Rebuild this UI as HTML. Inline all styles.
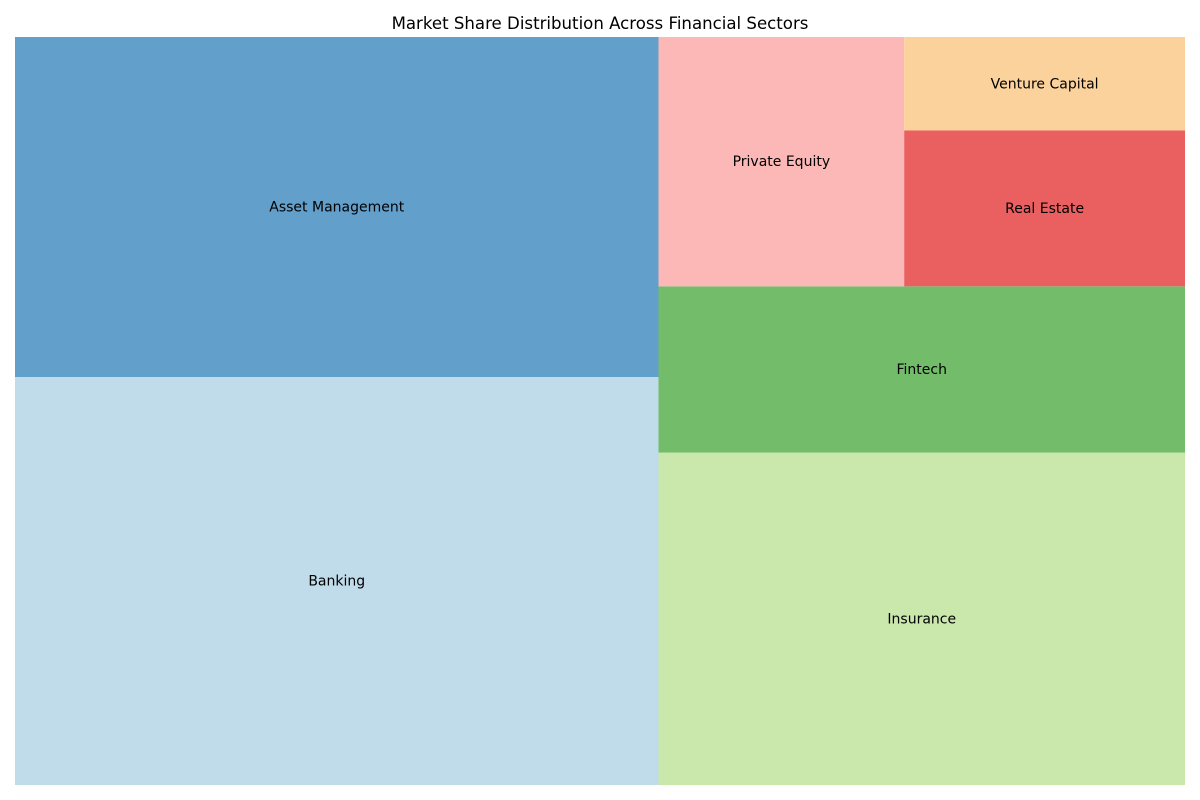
<!DOCTYPE html>
<html><head><meta charset="utf-8">
<style>
html,body{margin:0;padding:0;background:#fff;}
svg{display:block;}
text{font-family:"DejaVu Sans","Liberation Sans",sans-serif;}
</style></head>
<body>
<svg id="chart" width="1200" height="800">
<text x="600" y="29" text-anchor="middle" font-size="16.6" fill="#000">Market Share Distribution Across Financial Sectors</text>
<g id="rects"></g>
</svg>
<script>
const labels = ["Banking","Asset Management","Insurance","Fintech","Private Equity","Real Estate","Venture Capital"];
const values = [30,25,20,10,7,5,3];
const colors = ["#c0dcea","#629fca","#cae7ac","#72bc6a","#fbb8b7","#ea5f5f","#fcd29c"];

const PX=15, PY=37, PW=1170, PH=748, N=100;

function layoutRow(s,x,y,dx,dy){const c=s.reduce((a,b)=>a+b,0);const h=c/dx;const r=[];for(const v of s){r.push({x:x,y:y,dx:v/h,dy:h});x+=v/h;}return r;}
function layoutCol(s,x,y,dx,dy){const c=s.reduce((a,b)=>a+b,0);const w=c/dy;const r=[];for(const v of s){r.push({x:x,y:y,dx:w,dy:v/w});y+=v/w;}return r;}
function layout(s,x,y,dx,dy){return dx>=dy?layoutCol(s,x,y,dx,dy):layoutRow(s,x,y,dx,dy);}
function leftover(s,x,y,dx,dy){const c=s.reduce((a,b)=>a+b,0);if(dx>=dy){const w=c/dy;return [x+w,y,dx-w,dy];}const h=c/dx;return [x,y+h,dx,dy-h];}
function worst(s,x,y,dx,dy){return Math.max(...layout(s,x,y,dx,dy).map(r=>Math.max(r.dx/r.dy,r.dy/r.dx)));}
function squarify(s,x,y,dx,dy){
  if(s.length===0)return [];
  if(s.length===1)return layout(s,x,y,dx,dy);
  let i=1;
  while(i<s.length && worst(s.slice(0,i),x,y,dx,dy)>=worst(s.slice(0,i+1),x,y,dx,dy)) i++;
  const cur=s.slice(0,i), rem=s.slice(i);
  const lo=leftover(cur,x,y,dx,dy);
  return layout(cur,x,y,dx,dy).concat(squarify(rem,lo[0],lo[1],lo[2],lo[3]));
}
const total=values.reduce((a,b)=>a+b,0);
const norm=values.map(v=>v*N*N/total);
const rects=squarify(norm,0,0,N,N);
const g=document.getElementById('rects');
const NS="http://www.w3.org/2000/svg";
rects.forEach((r,i)=>{
  const x=PX+r.x/N*PW, w=r.dx/N*PW;
  const y=PY+PH-(r.y+r.dy)/N*PH, h=r.dy/N*PH;
  const rc=document.createElementNS(NS,'rect');
  rc.setAttribute('x',x);rc.setAttribute('y',y);rc.setAttribute('width',w);rc.setAttribute('height',h);
  rc.setAttribute('fill',colors[i]);
  
  
  g.appendChild(rc);
  const t=document.createElementNS(NS,'text');
  t.setAttribute('x',x+w/2);t.setAttribute('y',y+h/2+4.5);
  t.setAttribute('text-anchor','middle');t.setAttribute('font-size','14');t.setAttribute('fill','#000');
  t.textContent=labels[i];
  
  
  g.appendChild(t);
});
</script>
</body></html>
